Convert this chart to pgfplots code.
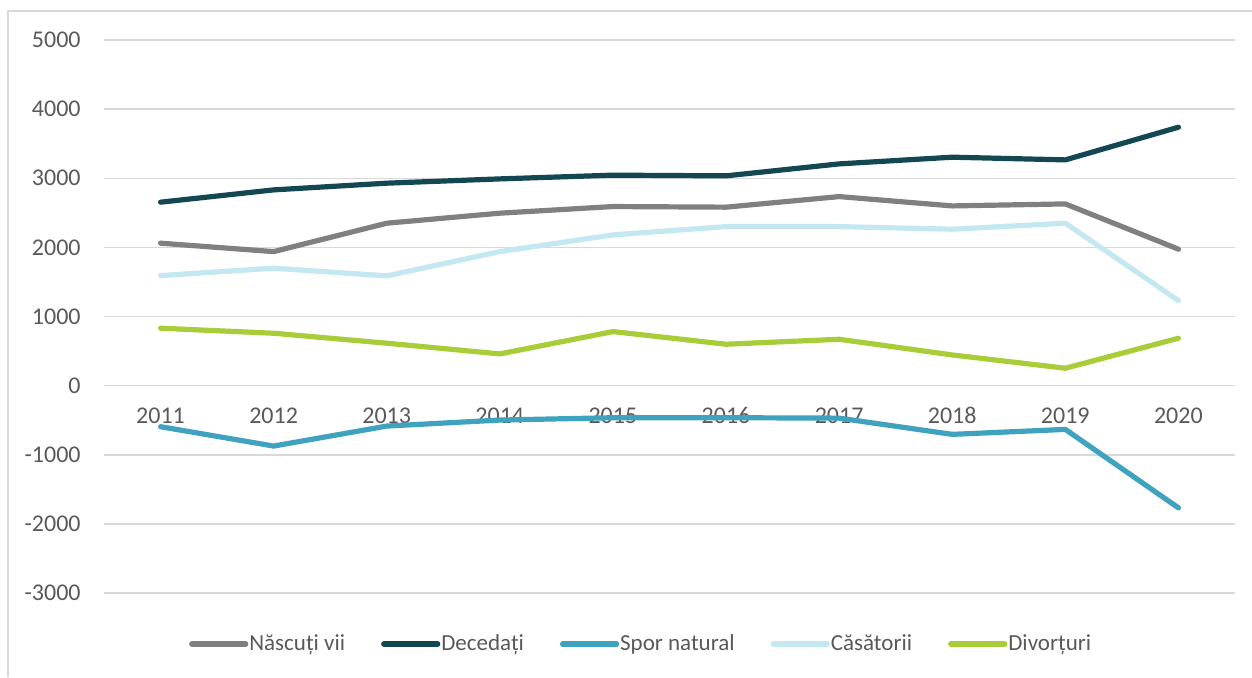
\documentclass[border=0pt]{standalone}
\usepackage{fontspec}
\setmainfont{Carlito}
\usepackage{pgfplots}
\pgfplotsset{compat=1.18}
\definecolor{txtgray}{HTML}{595959}
\definecolor{gridgray}{HTML}{D9D9D9}
\definecolor{cNasc}{HTML}{808080}
\definecolor{cDec}{HTML}{134853}
\definecolor{cSpor}{HTML}{3FA2BE}
\definecolor{cCas}{HTML}{C4E8F1}
\definecolor{cDiv}{HTML}{A9CD38}

\begin{document}
\begin{tikzpicture}
\useasboundingbox (0,0) rectangle (626pt,338.5pt);
% chart frame (top and left edges visible)
\draw[gridgray, line width=0.75pt] (4pt,0pt) -- (4pt,333pt) -- (626pt,333pt);
\begin{axis}[
  scale only axis,
  width=565.5pt, height=276.5pt,
  at={(52pt,42pt)}, anchor=south west,
  xmin=2010.5, xmax=2020.5,
  ymin=-3000, ymax=5000,
  xtick={2011,...,2020},
  ytick={-3000,-2000,...,5000},
  axis x line*=middle, axis y line*=left,
  axis line style={draw=none},
  tick style={draw=none}, major tick length=0pt,
  ymajorgrids, grid style={gridgray, line width=0.75pt},
  /pgf/number format/assume math mode=true,
  /pgf/number format/1000 sep={},
  tick label style={font=\fontsize{12}{14}\selectfont, text=txtgray},
  yticklabel style={inner sep=0pt, anchor=east, xshift=-11.5pt},
  xticklabel style={inner sep=0pt, anchor=north, yshift=-11pt, text height=7.6pt, text depth=0pt},
  legend columns=5,
  legend style={at={(0.4745,-0.0923)}, anchor=center, draw=none, fill=none,
    font=\fontsize{11.5}{14}\selectfont, text=txtgray,
    nodes={inner sep=0.5pt},
    /tikz/every even column/.append style={column sep=17.5pt},
    inner sep=0pt, cells={anchor=west}},
  legend image code/.code={\draw[#1, line cap=round] (0pt,0pt) -- (27pt,0pt);},
  every axis plot/.append style={line width=2.6pt, line cap=round, line join=round},
]
\addplot[cNasc] coordinates {(2011,2061)(2012,1939)(2013,2350)(2014,2495)(2015,2591)(2016,2582)(2017,2735)(2018,2600)(2019,2629)(2020,1974)};
\addlegendentry{Născuți vii}
\addplot[cDec] coordinates {(2011,2654)(2012,2832)(2013,2929)(2014,2991)(2015,3045)(2016,3035)(2017,3208)(2018,3305)(2019,3266)(2020,3739)};
\addlegendentry{Decedați}
\addplot[cSpor] coordinates {(2011,-594)(2012,-874)(2013,-585)(2014,-498)(2015,-464)(2016,-464)(2017,-470)(2018,-705)(2019,-633)(2020,-1768)};
\addlegendentry{Spor natural}
\addplot[cCas] coordinates {(2011,1592)(2012,1699)(2013,1588)(2014,1939)(2015,2181)(2016,2301)(2017,2301)(2018,2263)(2019,2350)(2020,1230)};
\addlegendentry{Căsătorii}
\addplot[cDiv] coordinates {(2011,831)(2012,758)(2013,614)(2014,459)(2015,782)(2016,599)(2017,671)(2018,444)(2019,252)(2020,686)};
\addlegendentry{Divorțuri}
\end{axis}
\end{tikzpicture}
\end{document}
